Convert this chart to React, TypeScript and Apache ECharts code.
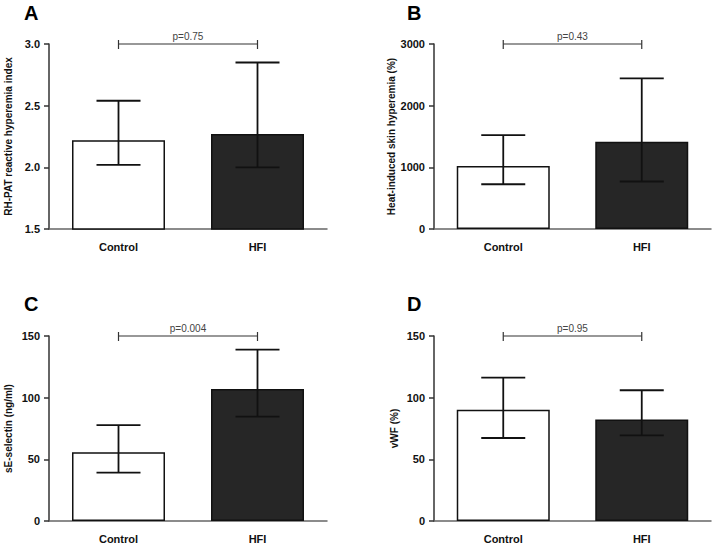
import React, { useEffect, useRef } from "react";
import * as echarts from "echarts";

const categories = ["Control", "HFI"];

const rhpatMean = [2.22, 2.27];
const rhpatLow = [2.02, 2.0];
const rhpatHigh = [2.54, 2.85];

const heatMean = [1023, 1413];
const heatLow = [726, 770];
const heatHigh = [1522, 2443];

const selMean = [55.7, 107];
const selLow = [39.2, 84.6];
const selHigh = [77.8, 139];

const vwfMean = [90.3, 82.2];
const vwfLow = [67.3, 69.5];
const vwfHigh = [116.3, 106];

const panelLetters = ["A", "B", "C", "D"];
const pLabels = ["p=0.75", "p=0.43", "p=0.004", "p=0.95"];
const bracketLevels = [3.0, 3000, 150, 150];
const yNames = [
  "RH-PAT reactive hyperemia index",
  "Heat-induced skin hyperemia (%)",
  "sE-selectin (ng/ml)",
  "vWF (%)",
];
const yMin = [1.5, 0, 0, 0];
const yMax = [3.0, 3000, 150, 150];
const yInterval = [0.5, 1000, 50, 50];
const yDecimals = [1, 0, 0, 0];

const FONT = "Liberation Sans, Arial, sans-serif";

export default function App() {
  const ref = useRef<HTMLDivElement>(null);

  useEffect(() => {
    document.body.style.margin = "0";
    if (!ref.current) return;
    const chart = echarts.init(ref.current, null, { renderer: "svg" });

    const means = [rhpatMean, heatMean, selMean, vwfMean];
    const lows = [rhpatLow, heatLow, selLow, vwfLow];
    const highs = [rhpatHigh, heatHigh, selHigh, vwfHigh];

    const grids = [
      { left: 49, top: 44, width: 278, height: 185 },
      { left: 434, top: 44, width: 277, height: 185 },
      { left: 49, top: 336, width: 278, height: 185 },
      { left: 434, top: 336, width: 277, height: 185 },
    ];
    const nameGaps = [36, 38, 36, 35];
    const letterPos = [
      [24, 3],
      [407, 3],
      [24, 294],
      [407, 294],
    ];

    const xAxis: any[] = [];
    const yAxis: any[] = [];
    const series: any[] = [];

    for (let i = 0; i < 4; i++) {
      xAxis.push({
        type: "category",
        gridIndex: i,
        data: categories,
        axisLine: { lineStyle: { color: "#666", width: 1.5 } },
        axisTick: { alignWithLabel: true, length: 5, lineStyle: { color: "#333", width: 1.5 } },
        axisLabel: {
          margin: 12,
          color: "#111",
          fontFamily: FONT,
          fontWeight: "bold",
          fontSize: 11,
        },
      });
      const dec = yDecimals[i];
      yAxis.push({
        type: "value",
        gridIndex: i,
        min: yMin[i],
        max: yMax[i],
        interval: yInterval[i],
        splitLine: { show: false },
        axisLine: { show: true, lineStyle: { color: "#333", width: 1.5 } },
        axisTick: { show: true, length: 5, lineStyle: { color: "#333", width: 1.5 } },
        axisLabel: {
          margin: 9,
          color: "#111",
          fontFamily: FONT,
          fontWeight: "bold",
          fontSize: 11,
          formatter: (v: number) => v.toFixed(dec),
        },
        name: yNames[i],
        nameLocation: "middle",
        nameRotate: 90,
        nameGap: nameGaps[i],
        nameTextStyle: {
          color: "#111",
          fontFamily: FONT,
          fontWeight: "bold",
          fontSize: 10,
        },
      });

      series.push({
        type: "bar",
        xAxisIndex: i,
        yAxisIndex: i,
        barWidth: 93,
        data: means[i].map((v, k) => ({
          value: v,
          itemStyle: {
            color: k === 0 ? "#ffffff" : "#262626",
            borderColor: "#111",
            borderWidth: 1.5,
          },
        })),
      });

      series.push({
        type: "custom",
        xAxisIndex: i,
        yAxisIndex: i,
        z: 5,
        data: categories.map((_, k) => [k, lows[i][k], highs[i][k]]),
        encode: { x: 0, y: [1, 2] },
        renderItem: (params: any, api: any) => {
          const x = api.value(0);
          const lo = api.coord([x, api.value(1)]);
          const hi = api.coord([x, api.value(2)]);
          const hw = 22;
          const style = { stroke: "#111", lineWidth: 1.8 };
          return {
            type: "group",
            children: [
              { type: "line", shape: { x1: lo[0], y1: lo[1], x2: hi[0], y2: hi[1] }, style },
              { type: "line", shape: { x1: hi[0] - hw, y1: hi[1], x2: hi[0] + hw, y2: hi[1] }, style },
              { type: "line", shape: { x1: lo[0] - hw, y1: lo[1], x2: lo[0] + hw, y2: lo[1] }, style },
            ],
          };
        },
      });

      const level = bracketLevels[i];
      const label = pLabels[i];
      series.push({
        type: "custom",
        xAxisIndex: i,
        yAxisIndex: i,
        z: 6,
        clip: false,
        data: [[0, 1, level]],
        encode: { x: [0, 1], y: 2 },
        renderItem: (params: any, api: any) => {
          const a = api.coord([api.value(0), api.value(2)]);
          const b = api.coord([api.value(1), api.value(2)]);
          const style = { stroke: "#333", lineWidth: 1.2 };
          return {
            type: "group",
            children: [
              { type: "line", shape: { x1: a[0], y1: a[1], x2: b[0], y2: b[1] }, style },
              { type: "line", shape: { x1: a[0], y1: a[1] - 4, x2: a[0], y2: a[1] + 5 }, style },
              { type: "line", shape: { x1: b[0], y1: b[1] - 4, x2: b[0], y2: b[1] + 5 }, style },
              {
                type: "text",
                x: (a[0] + b[0]) / 2,
                y: a[1] - 3,
                style: {
                  text: label,
                  fill: "#444",
                  font: `10px ${FONT}`,
                  textAlign: "center",
                  textVerticalAlign: "bottom",
                },
              },
            ],
          };
        },
      });
    }

    const graphic = panelLetters.map((t, i) => ({
      type: "text",
      left: letterPos[i][0],
      top: letterPos[i][1],
      style: {
        text: t,
        fill: "#000",
        font: `bold 20px ${FONT}`,
      },
    }));

    chart.setOption({
      animation: false,
      backgroundColor: "#ffffff",
      grid: grids,
      xAxis,
      yAxis,
      series,
      graphic,
    });

    return () => chart.dispose();
  }, []);

  return <div ref={ref} style={{ width: 714, height: 547 }} />;
}
